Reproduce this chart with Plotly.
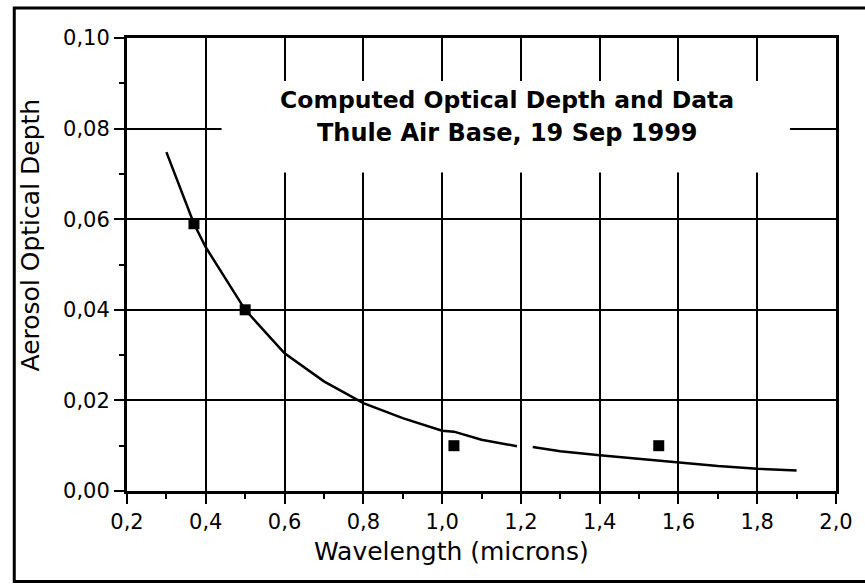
import plotly.graph_objects as go

# Computed aerosol optical depth spectrum (None marks the break in the model curve)
model_wavelength = [0.30, 0.37, 0.40, 0.50, 0.60, 0.70, 0.80, 0.90, 1.00, 1.03, 1.10, 1.19,
                    None, 1.23, 1.30, 1.40, 1.50, 1.55, 1.60, 1.70, 1.80, 1.90]
model_depth = [0.0748, 0.0590, 0.0538, 0.0400, 0.0304, 0.0242, 0.0194, 0.0161, 0.0133, 0.0131,
               0.0113, 0.0099, None, 0.0097, 0.0088, 0.0079, 0.0071, 0.0066, 0.0062, 0.0055,
               0.0049, 0.0045]

# Measured optical depths
data_wavelength = [0.37, 0.50, 1.03, 1.55]
data_depth = [0.059, 0.040, 0.010, 0.010]

title_lines = ["Computed Optical Depth and Data", "Thule Air Base, 19 Sep 1999"]
x_title = "Wavelength (microns)"
y_title = "Aerosol Optical Depth"

FONT = "DejaVu Sans"

fig = go.Figure()
fig.add_trace(go.Scatter(
    x=model_wavelength, y=model_depth, mode="lines",
    line=dict(color="black", width=2.5), connectgaps=False, showlegend=False,
))
fig.add_trace(go.Scatter(
    x=data_wavelength, y=data_depth, mode="markers",
    marker=dict(symbol="square", size=11, color="black"), showlegend=False,
))

axis_common = dict(
    showline=True, linecolor="black", linewidth=3, mirror=True,
    showgrid=True, gridcolor="black", gridwidth=1.5, zeroline=False,
    ticks="outside", ticklen=10, tickwidth=2, tickcolor="black",
    tickfont=dict(family=FONT, size=21, color="black"),
)

fig.update_xaxes(
    range=[0.2, 2.0], dtick=0.2, tick0=0.2, tickformat=".1f",
    minor=dict(ticks="outside", ticklen=5, tickwidth=2, tickcolor="black", dtick=0.1, tick0=0.2, showgrid=False),
    **axis_common,
)
fig.update_yaxes(
    range=[0.0, 0.10], dtick=0.02, tick0=0.0, tickformat=".2f",
    minor=dict(ticks="outside", ticklen=5, tickwidth=2, tickcolor="black", dtick=0.01, tick0=0.0, showgrid=False),
    **axis_common,
)

# White panel behind the caption, interrupting the grid
fig.add_shape(type="rect", xref="x", yref="y", x0=0.44, x1=1.883, y0=0.0703, y1=0.0905,
              fillcolor="white", line=dict(width=0), layer="above")

# Outer frame around the whole figure (its right edge falls outside the page)
fig.add_shape(type="rect", xref="paper", yref="paper", x0=-0.159, x1=1.08, y0=-0.2, y1=1.066,
              line=dict(color="black", width=3), fillcolor="rgba(0,0,0,0)", layer="above")

fig.add_annotation(x=1.165, y=0.0864, xref="x", yref="y", text=f"<b>{title_lines[0]}</b>",
                   showarrow=False, xanchor="center", yanchor="middle",
                   font=dict(family=FONT, size=23.5, color="black"))
fig.add_annotation(x=1.165, y=0.0791, xref="x", yref="y", text=f"<b>{title_lines[1]}</b>",
                   showarrow=False, xanchor="center", yanchor="middle",
                   font=dict(family=FONT, size=24, color="black"))

fig.add_annotation(x=(457 - 127) / 720, y=(491 - 551) / 453, xref="paper", yref="paper",
                   text=x_title, showarrow=False, xanchor="center", yanchor="middle",
                   font=dict(family=FONT, size=25, color="black"))
fig.add_annotation(x=(28 - 127) / 720, y=(491 - 235) / 453, xref="paper", yref="paper",
                   text=y_title, textangle=-90, showarrow=False, xanchor="center", yanchor="middle",
                   font=dict(family=FONT, size=25, color="black"))

fig.update_layout(
    width=865, height=584,
    margin=dict(l=127, r=18, t=38, b=93),
    paper_bgcolor="white", plot_bgcolor="white",
    separators=",.",
    font=dict(family=FONT, color="black"),
)

fig.write_html("out.html")
